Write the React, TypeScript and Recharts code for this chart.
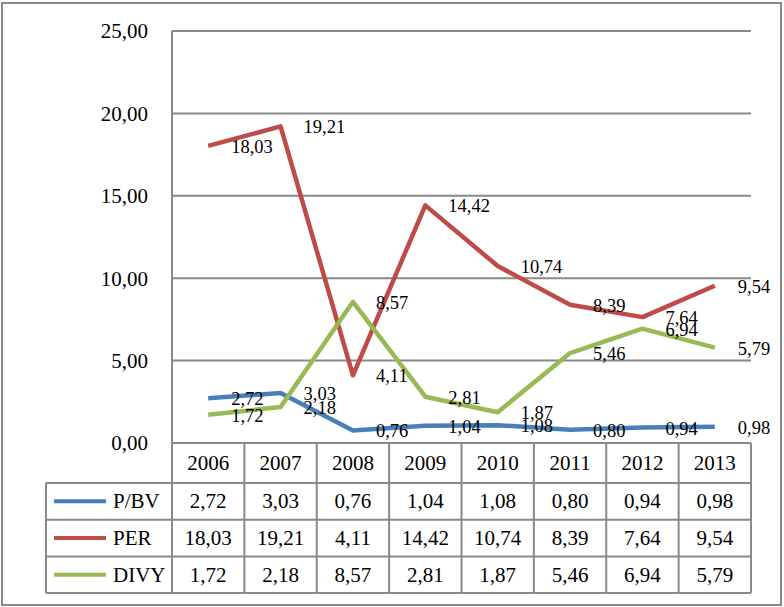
import { LineChart, Line, XAxis, YAxis, CartesianGrid, LabelList } from 'recharts'

const years = ['2006', '2007', '2008', '2009', '2010', '2011', '2012', '2013']
const pbv = [2.72, 3.03, 0.76, 1.04, 1.08, 0.8, 0.94, 0.98]
const per = [18.03, 19.21, 4.11, 14.42, 10.74, 8.39, 7.64, 9.54]
const divy = [1.72, 2.18, 8.57, 2.81, 1.87, 5.46, 6.94, 5.79]
const yTicks = [0, 5, 10, 15, 20, 25]

const series = [
  { key: 'pbv', name: 'P/BV', values: pbv, color: '#4A7EBB' },
  { key: 'per', name: 'PER', values: per, color: '#BE4B48' },
  { key: 'divy', name: 'DIVY', values: divy, color: '#98B954' },
]

const data = years.map((year, i) => ({ year, pbv: pbv[i], per: per[i], divy: divy[i] }))

// layout
const W = 784
const H = 607
const PLOT_L = 172
const PLOT_R = 751
const PLOT_T = 31
const PLOT_B = 443
const HALF = (PLOT_R - PLOT_L) / years.length / 2
const HEAD = 40
const ROW = 36.7
const LABEL_COL = 126
const GRID = '#898989'
const FONT = 'Liberation Serif, DejaVu Serif, serif'

const fmt = (v: number) => v.toFixed(2).replace('.', ',')

const TableTick = ({ x, y, payload }: any) => {
  const i = years.indexOf(payload.value)
  const x0 = x - HALF
  const x1 = x + HALF
  const rows = [y + HEAD, y + HEAD + ROW, y + HEAD + 2 * ROW, y + HEAD + 3 * ROW]
  const bottom = rows[3]
  const left = x0 - LABEL_COL
  return (
    <g style={{ fontFamily: FONT, fontSize: 21 }} fill="#000">
      <line x1={x1} y1={y} x2={x1} y2={bottom} stroke={GRID} strokeWidth={2} />
      {rows.map(ry => (
        <line key={ry} x1={i === 0 ? left : x0} y1={ry} x2={x1} y2={ry} stroke={GRID} strokeWidth={2} />
      ))}
      <text x={x} y={y + HEAD / 2} textAnchor="middle" dominantBaseline="central">{payload.value}</text>
      {series.map((s, r) => (
        <text key={s.key} x={x} y={rows[r] + ROW / 2} textAnchor="middle" dominantBaseline="central">
          {fmt(s.values[i])}
        </text>
      ))}
      {i === 0 && (
        <g>
          <line x1={x0} y1={y} x2={x0} y2={bottom} stroke={GRID} strokeWidth={2} />
          <line x1={left} y1={rows[0]} x2={left} y2={bottom} stroke={GRID} strokeWidth={2} />
          {series.map((s, r) => (
            <g key={s.key}>
              <line x1={left + 8} y1={rows[r] + ROW / 2} x2={left + 60} y2={rows[r] + ROW / 2}
                stroke={s.color} strokeWidth={4} />
              <text x={left + 67} y={rows[r] + ROW / 2} dominantBaseline="central">{s.name}</text>
            </g>
          ))}
        </g>
      )}
    </g>
  )
}

const PointLabel = (props: any) => {
  const { x, y, value } = props
  return (
    <text x={x + 23} y={y + 1} style={{ fontFamily: FONT, fontSize: 18.5 }} fill="#000"
      dominantBaseline="central">
      {fmt(value)}
    </text>
  )
}

export default function App() {
  return (
    <div style={{ position: 'absolute', left: 0, top: 0, width: W, height: H, background: '#fff', fontFamily: FONT }}>
      <LineChart width={W} height={H} data={data}
        margin={{ top: PLOT_T, right: W - PLOT_R, bottom: 0, left: 0 }}>
        <CartesianGrid vertical={false} stroke={GRID} strokeWidth={2} />
        <XAxis
          dataKey="year" height={H - PLOT_B} interval={0}
          padding={{ left: HALF, right: HALF }}
          axisLine={{ stroke: GRID, strokeWidth: 2 }} tickLine={false}
          tickSize={0} tickMargin={0}
          tick={<TableTick />}
        />
        <YAxis
          width={PLOT_L} domain={[0, 25]} ticks={yTicks} interval={0}
          tickFormatter={fmt}
          axisLine={{ stroke: GRID, strokeWidth: 2 }} tickLine={false}
          tickSize={0} tickMargin={24}
          tick={{ fill: '#000', fontSize: 21, style: { fontFamily: FONT } }}
        />
        {series.map(s => (
          <Line key={s.key} dataKey={s.key} name={s.name} stroke={s.color} strokeWidth={4.5}
            strokeLinejoin="round" dot={false} activeDot={false} isAnimationActive={false}>
            <LabelList dataKey={s.key} content={<PointLabel />} />
          </Line>
        ))}
      </LineChart>
      <div style={{
        position: 'absolute', left: 1, top: 2, width: 781, height: 604,
        border: `2px solid ${GRID}`, boxSizing: 'border-box', pointerEvents: 'none',
      }} />
    </div>
  )
}
